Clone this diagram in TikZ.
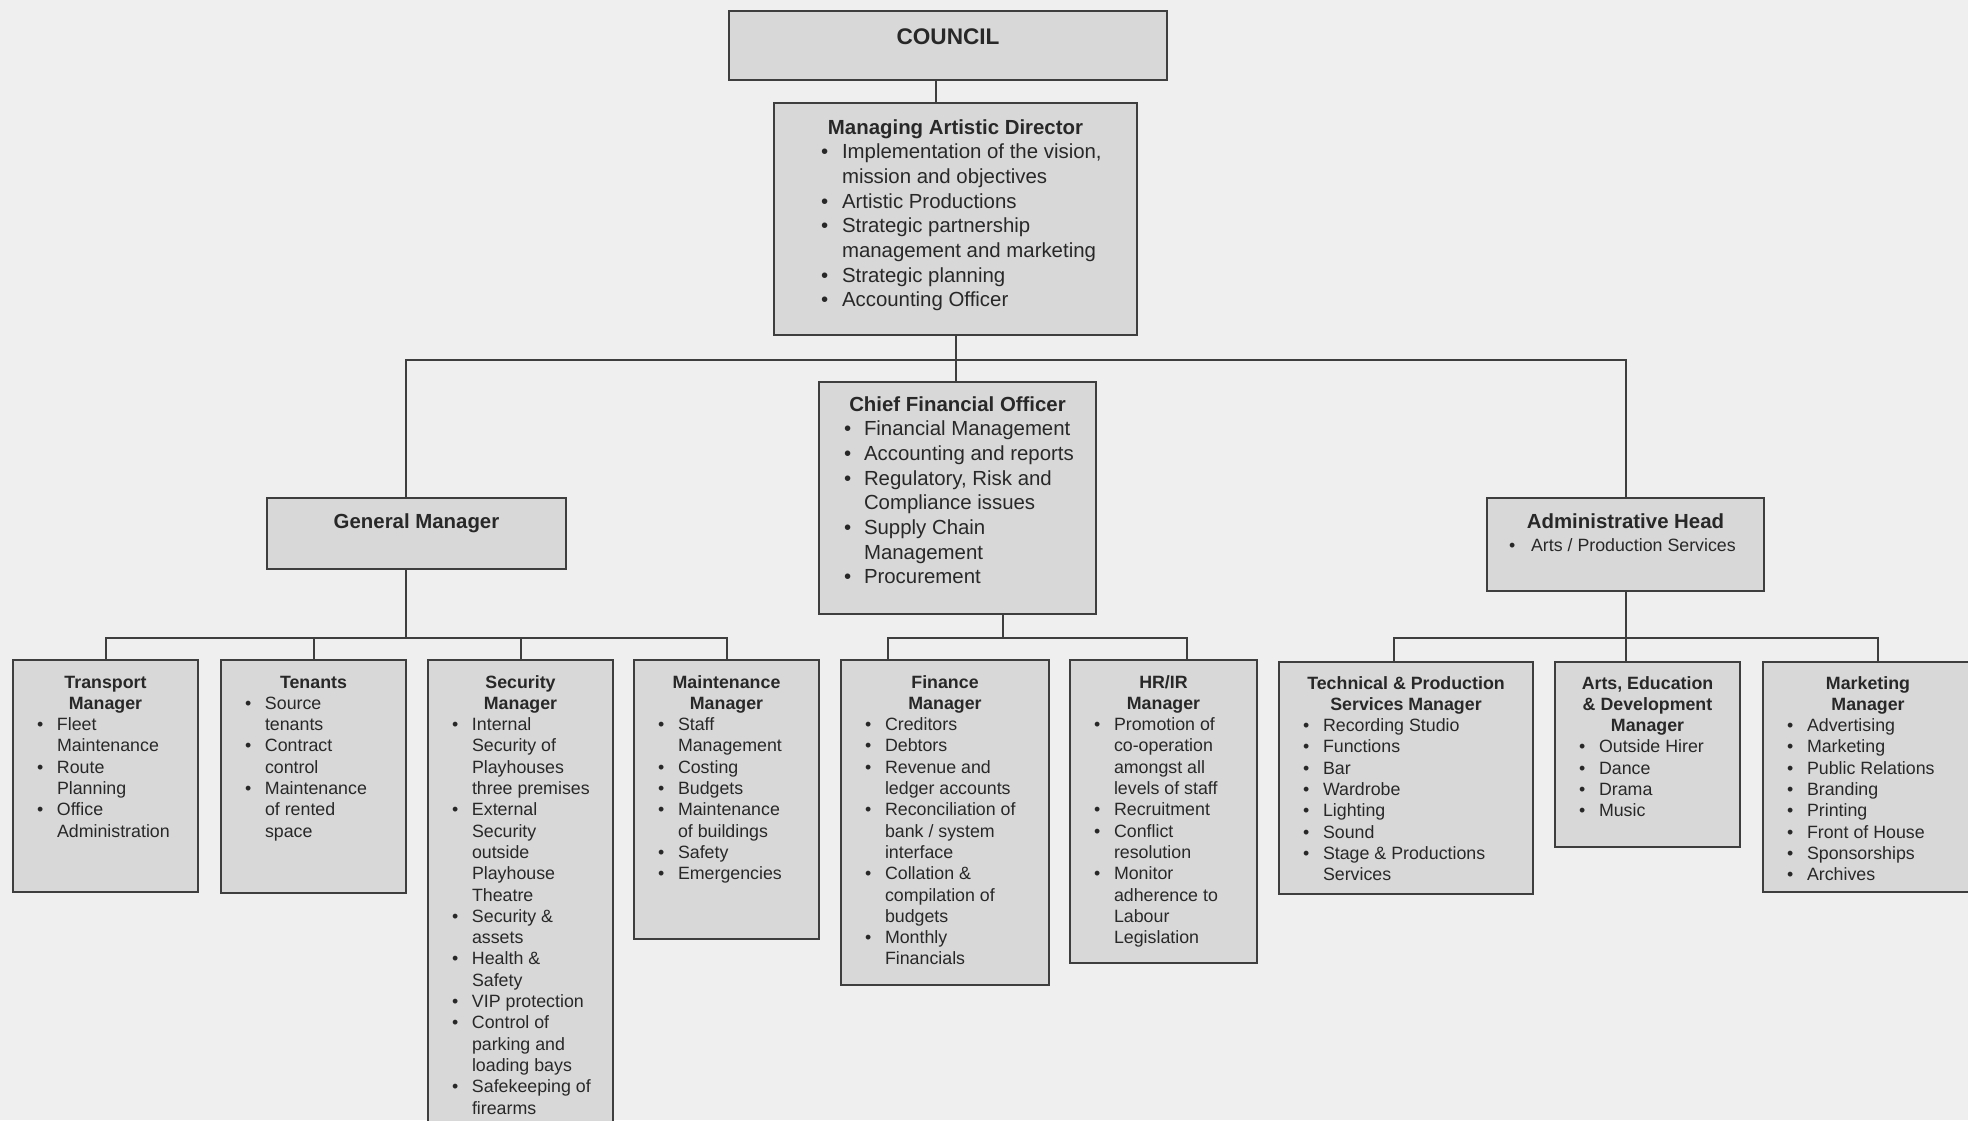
\documentclass[tikz,border=0pt]{standalone}
\usepackage{fontspec}
\setmainfont{Liberation Sans}
\usetikzlibrary{calc}
\definecolor{pagegray}{RGB}{239,239,239}
\definecolor{boxgray}{RGB}{216,216,216}
\definecolor{linegray}{RGB}{62,62,62}
\definecolor{inkgray}{RGB}{40,40,40}

% one unit of the picture
\newdimen\pxu \pxu=0.5pt
\newdimen\bulx \newdimen\txtx
\newcommand\itm{\par\hangindent\txtx\hangafter=1\relax\noindent\makebox[\txtx][l]{\hspace*{\bulx}\textbullet}\ignorespaces}
\newcommand\ttl[2]{{\centering\bfseries\rule{0pt}{#1\pxu}#2\par}}
\newcommand\bigtxt[3]{\parbox[t][#2\pxu][t]{#1\pxu}{\fontsize{10.2}{12.35}\selectfont\rightskip0pt plus1fil\relax #3}}
\newcommand\smalltxt[3]{\parbox[t][#2\pxu][t]{#1\pxu}{\fontsize{8.9}{10.65}\selectfont\rightskip0pt plus1fil\relax\bulx=24\pxu\txtx=44\pxu #3}}

\begin{document}
\begin{tikzpicture}[x=0.5pt,y=-0.5pt,
    org/.style={draw=linegray,fill=boxgray,line width=1pt,inner sep=0pt,anchor=north west,text=inkgray},
    link/.style={draw=linegray,line width=1pt}]
    \path[use as bounding box] (0,0) rectangle (1968,1120);
    \fill[pagegray] (0,0) rectangle (1968,1120);
    \clip (0,0) rectangle (1968,1120);

    % Top of the chart
    \node[org] (council) at (728,10) {\parbox[t][69\pxu][t]{438\pxu}{\centering\fontsize{11.3}{13}\selectfont\bfseries\rule{0pt}{33\pxu}COUNCIL}};
    \node[org] (mad) at (773,102) {\bigtxt{363}{232}{\bulx=47\pxu\txtx=68\pxu
        \ttl{31}{Managing Artistic Director}
        \itm Implementation of the vision,\\ mission and objectives
        \itm Artistic Productions
        \itm Strategic partnership\\ management and marketing
        \itm Strategic planning
        \itm Accounting Officer}};

    % Heads
    \node[org] (gm) at (266,497) {\bigtxt{299}{71}{\ttl{30}{General Manager}}};
    \node[org] (cfo) at (818,381) {\bigtxt{277}{232}{\bulx=25\pxu\txtx=45\pxu
        \ttl{29}{Chief Financial Officer}
        \itm Financial Management
        \itm Accounting and reports
        \itm Regulatory, Risk and\\ Compliance issues
        \itm Supply Chain\\ Management
        \itm Procurement}};
    \node[org] (admin) at (1486,497) {\parbox[t][93\pxu][t]{277\pxu}{\fontsize{10.2}{12.35}\selectfont
        \ttl{30}{Administrative Head}
        \fontsize{8.9}{11.5}\selectfont\bulx=22\pxu\txtx=44\pxu
        \itm Arts / Production Services}};

    % Managers
    \node[org] (tm) at (12,659) {\smalltxt{185}{232}{\ttl{28}{Transport\\Manager}
        \itm Fleet\\ Maintenance
        \itm Route\\ Planning
        \itm Office\\ Administration}};
    \node[org] (tn) at (220,659) {\smalltxt{185}{233}{\ttl{28}{Tenants}
        \itm Source\\ tenants
        \itm Contract\\ control
        \itm Maintenance\\ of rented\\ space}};
    \node[org] (sm) at (427,659) {\smalltxt{185}{520}{\ttl{28}{Security\\Manager}
        \itm Internal\\ Security of\\ Playhouses\\ three premises
        \itm External\\ Security\\ outside\\ Playhouse\\ Theatre
        \itm Security \&\\ assets
        \itm Health \&\\ Safety
        \itm VIP protection
        \itm Control of\\ parking and\\ loading bays
        \itm Safekeeping of\\ firearms}};
    \node[org] (mm) at (633,659) {\smalltxt{185}{279}{\ttl{28}{Maintenance\\Manager}
        \itm Staff\\ Management
        \itm Costing
        \itm Budgets
        \itm Maintenance\\ of buildings
        \itm Safety
        \itm Emergencies}};
    \node[org] (fm) at (840,659) {\smalltxt{208}{325}{\ttl{28}{Finance\\Manager}
        \itm Creditors
        \itm Debtors
        \itm Revenue and\\ ledger accounts
        \itm Reconciliation of\\ bank / system\\ interface
        \itm Collation \&\\ compilation of\\ budgets
        \itm Monthly\\ Financials}};
    \node[org] (hr) at (1069,659) {\smalltxt{187}{303}{\ttl{28}{HR/IR\\Manager}
        \itm Promotion of\\ co-operation\\ amongst all\\ levels of staff
        \itm Recruitment
        \itm Conflict\\ resolution
        \itm Monitor\\ adherence to\\ Labour\\ Legislation}};
    \node[org] (tp) at (1278,661) {\smalltxt{254}{232}{\ttl{27}{Technical \& Production\\Services Manager}
        \itm Recording Studio
        \itm Functions
        \itm Bar
        \itm Wardrobe
        \itm Lighting
        \itm Sound
        \itm Stage \& Productions\\ Services}};
    \node[org] (ae) at (1554,661) {\smalltxt{185}{185}{\ttl{27}{Arts, Education\\\& Development\\Manager}
        \itm Outside Hirer
        \itm Dance
        \itm Drama
        \itm Music}};
    \node[org] (mk) at (1762,661) {\smalltxt{210}{230}{\ttl{27}{Marketing\\Manager}
        \itm Advertising
        \itm Marketing
        \itm Public Relations
        \itm Branding
        \itm Printing
        \itm Front of House
        \itm Sponsorships
        \itm Archives}};

    % Council to director
    \coordinate (c1) at ($(council.south)+(-12,0)$);
    \draw[link] (c1) -- (c1 |- mad.north);

    % Director to heads
    \coordinate (bus1) at ($(mad.south)+(0,24)$);
    \coordinate (g1) at ($(gm.north)+(-11,0)$);
    \draw[link] (mad.south) -- (mad.south |- cfo.north);
    \draw[link] (g1) |- (bus1) -| (admin.north);

    % Heads to managers
    \coordinate (g2) at ($(gm.south)+(-11,0)$);
    \coordinate (bus2) at ($(g2)+(0,68)$);
    \draw[link] (g2) -- (bus2);
    \draw[link] (tm.north) -- (tm.north |- bus2) -| (mm.north);
    \draw[link] (tn.north) -- (tn.north |- bus2);
    \draw[link] (sm.north) -- (sm.north |- bus2);

    \coordinate (f0) at ($(cfo.south)+(45,0)$);
    \coordinate (f1) at ($(fm.north)+(-57,0)$);
    \coordinate (f2) at ($(hr.north)+(23,0)$);
    \draw[link] (f0) -- (f0 |- bus2);
    \draw[link] (f1) -- (f1 |- bus2) -| (f2);

    \coordinate (a1) at ($(tp.north)+(-12,0)$);
    \coordinate (a3) at ($(mk.north)+(10,0)$);
    \draw[link] (admin.south) -- (admin.south |- ae.north);
    \draw[link] (a1) -- (a1 |- bus2) -| (a3);
\end{tikzpicture}
\end{document}
